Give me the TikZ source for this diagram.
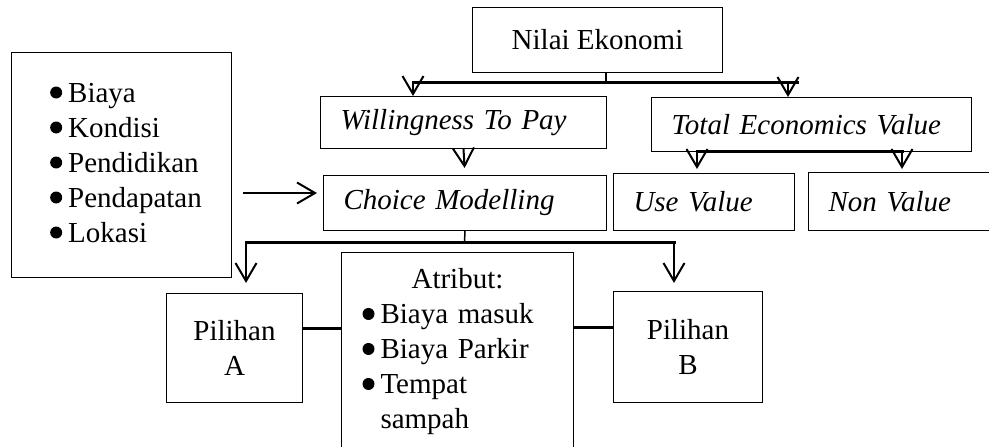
\documentclass[tikz,border=0pt]{standalone}
\usepackage{fontspec}
\setmainfont{Liberation Serif}
\usetikzlibrary{arrows.meta,calc}
\newcommand\bul{\makebox[18pt][l]{\tikz[baseline=0pt]\fill (6pt,9.5pt) circle (6pt);}}
\begin{document}
\begin{tikzpicture}[x=1pt,y=-1pt,
  font=\fontsize{29}{35}\selectfont,
  box/.style={draw, line width=1pt, inner sep=0pt, anchor=north west},
  ibox/.style={box, font=\fontsize{29}{35}\selectfont\itshape, inner xsep=20pt, align=left},
  bar/.style={line width=3pt, line cap=rect},
  arr/.style={line width=2pt, -{Straight Barb[length=18pt,width=21pt]}},
]
\useasboundingbox (0,0) rectangle (989,447);
\clip (0,0) rectangle (989,447);

\node[box, minimum width=250pt, minimum height=65pt, align=center] (nilai) at (472,7) {Nilai Ekonomi};
\node[ibox, minimum width=286pt, minimum height=52pt, text width=246pt] (wtp) at (320,96) {Willingness To Pay};
\node[ibox, minimum width=320pt, minimum height=54pt, text width=280pt] (tev) at (651,97) {Total Economics Value};
\node[ibox, minimum width=283pt, minimum height=55pt, text width=243pt] (cm) at (323,175) {Choice Modelling};
\node[ibox, minimum width=181pt, minimum height=57pt, text width=141pt] (uv) at (613,173) {Use Value};
\node[ibox, minimum width=190pt, minimum height=58pt, text width=150pt] (nv) at (808,172) {Non Value};
\node[box, minimum width=220pt, minimum height=225pt] (fak) at (11,52)
  {\begin{tabular}{@{\hspace{9pt}}l@{}}\bul Biaya\\ \bul Kondisi\\ \bul Pendidikan\\ \bul Pendapatan\\ \bul Lokasi\end{tabular}};
\node[box, minimum width=136pt, minimum height=109pt, align=center] (pa) at (166,293) {Pilihan\\A};
\node[box, minimum width=149pt, minimum height=111pt, align=center] (pb) at (613,291) {Pilihan\\B};
\node[box, minimum width=232pt, minimum height=198pt, inner xsep=21pt, text width=190pt, align=left] (atr) at (341,252)
  {\makebox[190pt]{Atribut:}\\ \bul Biaya masuk\\ \bul Biaya Parkir\\ \bul Tempat\\ \hspace*{18pt}sampah};

% Nilai Ekonomi branches
\coordinate (nj) at (606,82);
\coordinate (nl) at (413,82);
\coordinate (nr) at (797,82);
\coordinate (nra) at (788,82);
\draw[line width=2.5pt] (nilai.south -| nj) -- (nj);
\draw[bar] (nl) -- (nr);
\draw[arr] (nl) -- (nl |- wtp.north);
\draw[arr] (nra) -- (nra |- tev.north);

% WTP to Choice Modelling
\draw[arr, shorten >=7pt] (wtp.south) -- (cm.north);

% TEV branches
\coordinate (tl) at (697,151);
\coordinate (tr) at (902,151);
\draw[bar] (tl) -- (tr);
\draw[arr, shorten >=4pt] (tl) -- (tl |- uv.north);
\draw[arr, shorten >=3pt] (tr) -- (tr |- nv.north);

% factors to Choice Modelling
\coordinate (ya) at (0,193);
\draw[arr, shorten <=11pt, shorten >=6pt] (fak.east |- ya) -- (cm.west |- ya);

% Choice Modelling to alternatives
\coordinate (bj) at (464.5,242);
\coordinate (bl) at (246,242);
\coordinate (br) at (674,242);
\draw[line width=1.5pt] (cm.south) -- (bj);
\draw[bar] (bl) -- (br);
\draw[arr, shorten >=10pt] (bl) -- (bl |- pa.north);
\draw[arr, shorten >=8pt] (br) -- (br |- pb.north);

% alternatives to attributes
\coordinate (ya2) at (0,328);
\coordinate (yb2) at (0,327);
\draw[bar, line cap=butt] (pa.east |- ya2) -- (atr.west |- ya2);
\draw[bar, line cap=butt] (atr.east |- yb2) -- (pb.west |- yb2);
\end{tikzpicture}
\end{document}
